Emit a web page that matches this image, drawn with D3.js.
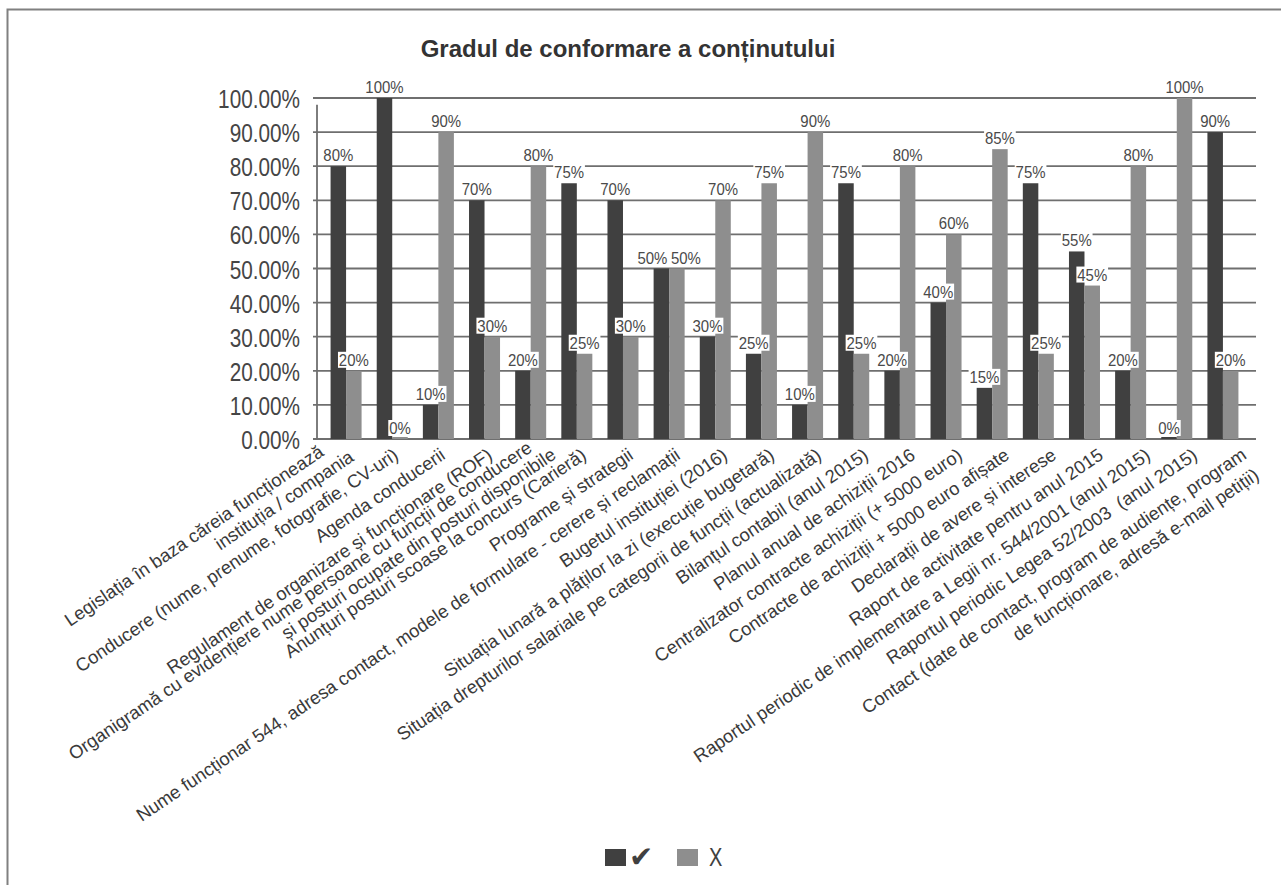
<!DOCTYPE html>
<html><head><meta charset="utf-8">
<script src="https://cdn.jsdelivr.net/npm/d3@7"></script>
<style>body{margin:0;background:#fff;} svg{display:block;}</style>
</head><body>
<svg id="chart" width="1281" height="885"></svg>
<script>
// ---------- data ----------
const categories = [
  ["Legislația în baza căreia funcționează", "instituția / compania"],
  ["Conducere (nume, prenume, fotografie, CV-uri)"],
  ["Agenda conducerii"],
  ["Regulament de organizare și funcționare (ROF)"],
  ["Organigramă cu evidențiere nume persoane cu funcții de conducere", "și posturi ocupate din posturi disponibile"],
  ["Anunțuri posturi scoase la concurs (Carieră)"],
  ["Programe și strategii"],
  ["Nume funcționar 544, adresa contact, modele de formulare - cerere și reclamații"],
  ["Bugetul instituției (2016)"],
  ["Situația lunară a plăților la zi (execuție bugetară)"],
  ["Situația drepturilor salariale pe categorii de funcții (actualizată)"],
  ["Bilanțul contabil (anul 2015)"],
  ["Planul anual de achiziții 2016"],
  ["Centralizator contracte achiziții (+ 5000 euro)"],
  ["Contracte de achiziții + 5000 euro afișate"],
  ["Declarații de avere și interese"],
  ["Raport de activitate pentru anul 2015"],
  ["Raportul periodic de implementare a Legii nr. 544/2001 (anul 2015)"],
  ["Raportul periodic Legea 52/2003  (anul 2015)"],
  ["Contact (date de contact, program de audiențe, program", "de funcționare, adresă e-mail petiții)"]
];
const seriesNames = ["✔", "X"];
const valuesCheck = [80, 100, 10, 70, 20, 75, 70, 50, 30, 25, 10, 75, 20, 40, 15, 75, 55, 20, 0, 90];
const valuesX     = [20, 0, 90, 30, 80, 25, 30, 50, 70, 75, 90, 25, 80, 60, 85, 25, 45, 80, 100, 20];
const yTickValues = [0, 10, 20, 30, 40, 50, 60, 70, 80, 90, 100];
const titleText = "Gradul de conformare a conținutului";

// ---------- layout / style ----------
const colors = ["#404040", "#8e8e8e"];
const axisX = 317, gridLeft = 313, gridRight = 1256;
const plotTop = 98, plotBottom = 439;
const labelAngle = -34;
// per-line offsets (along baseline, perpendicular) for wrapped category labels
const wrapOffsets = {0: [[-21, -18], [1, 3]], 4: [[-2, -10], [14, 9]], 19: [[2, 1], [1, 25]]};

const svg = d3.select("#chart");
const idx = d3.range(categories.length);

const y = d3.scaleLinear().domain([0, 100]).range([plotBottom, plotTop]);
const x = d3.scaleBand().domain(idx).range([323, 1246]).paddingInner(0.328).paddingOuter(0.164);
const xSub = d3.scaleBand().domain([0, 1]).range([0, x.bandwidth()]);
const xLab = d3.scaleBand().domain(idx).range([axisX, 1257]);

// frame
svg.append("path").attr("d", "M7.5,885V9.5H1281").attr("fill", "none")
  .attr("stroke", "#808080").attr("stroke-width", 2);

// title
svg.append("text").attr("x", 628).attr("y", 57).attr("text-anchor", "middle")
  .attr("font-family", "Liberation Sans, Arial, sans-serif").attr("font-weight", "bold")
  .attr("font-size", 24).attr("fill", "#333").text(titleText);

// gridlines
svg.append("g").selectAll("line").data(yTickValues).join("line")
  .attr("x1", gridLeft).attr("x2", gridRight)
  .attr("y1", d => y(d)).attr("y2", d => y(d))
  .attr("stroke", "#6f6f6f").attr("stroke-width", 1.8);

// y axis
const yAxis = svg.append("g").attr("transform", `translate(${axisX},0)`)
  .call(d3.axisLeft(y).tickValues(yTickValues).tickSize(0).tickFormat(d => d.toFixed(2) + "%"));
yAxis.select(".domain").remove();
yAxis.selectAll("text")
  .attr("font-family", "Liberation Sans, Arial, sans-serif").attr("font-size", 25)
  .attr("fill", "#454545").attr("x", -17 / 0.83).attr("dy", "0.38em")
  .attr("transform", "scale(0.83,1)");
svg.append("line").attr("x1", axisX).attr("x2", axisX).attr("y1", y(98)).attr("y2", y(0))
  .attr("stroke", "#6f6f6f").attr("stroke-width", 1.8);

// bars
const series = [valuesCheck, valuesX];
const barG = svg.append("g");
series.forEach((vals, s) => {
  barG.selectAll(null).data(idx).join("rect")
    .attr("x", i => x(i) + xSub(s))
    .attr("width", xSub.bandwidth())
    .attr("y", i => Math.min(y(vals[i]), y(0) - 2))
    .attr("height", i => Math.max(y(0) - y(vals[i]), 2))
    .attr("fill", colors[s]);
});

// data labels
const lblG = svg.append("g");
series.forEach((vals, s) => {
  idx.forEach(i => {
    const other = series[1 - s][i];
    let nudge = 0;
    if (Math.abs(other - vals[i]) < 8) nudge = s === 0 ? -9 : 9;
    const cx = x(i) + xSub(s) + xSub.bandwidth() / 2 + nudge;
    const g = lblG.append("g").attr("transform", `translate(${cx},${y(vals[i]) - 5}) scale(0.88,1)`);
    const r = g.append("rect").attr("fill", "#fff");
    const t = g.append("text").attr("text-anchor", "middle")
      .attr("font-family", "Liberation Sans, Arial, sans-serif").attr("font-size", 17)
      .attr("fill", "#4a4a4a").text(vals[i] + "%");
    const w = t.node().getComputedTextLength();
    r.attr("x", -w / 2 - 1).attr("y", -14).attr("width", w + 2).attr("height", 16);
  });
});

// category labels
const catG = svg.append("g");
idx.forEach(i => {
  const ax = xLab(i) + xLab.bandwidth() / 2 + 12;
  const ay = 458;
  const g = catG.append("g").attr("transform", `translate(${ax},${ay}) rotate(${labelAngle})`);
  categories[i].forEach((line, k) => {
    const off = wrapOffsets[i] ? wrapOffsets[i][k] : [0, 0];
    g.append("text").attr("x", off[0]).attr("y", off[1]).attr("text-anchor", "end")
      .attr("font-family", "Liberation Sans, Arial, sans-serif").attr("font-size", 18.4)
      .attr("fill", "#3a3a3a").style("white-space", "pre").text(line);
  });
});

// legend
const legend = svg.append("g");
const legendX = [605, 677];
seriesNames.forEach((name, s) => {
  legend.append("rect").attr("x", legendX[s]).attr("y", 849).attr("width", 21).attr("height", 17)
    .attr("fill", colors[s]);
  if (s === 0) {
    legend.append("text").attr("x", legendX[s] + 24).attr("y", 867)
      .attr("font-family", "DejaVu Sans, sans-serif").attr("font-size", 29)
      .attr("fill", colors[0]).text(name);
  } else {
    legend.append("text").attr("transform", `translate(${legendX[s] + 32},866) scale(0.8,1)`)
      .attr("font-family", "Liberation Sans, Arial, sans-serif").attr("font-size", 25)
      .attr("fill", "#404040").text(name);
  }
});
</script>
</body></html>
